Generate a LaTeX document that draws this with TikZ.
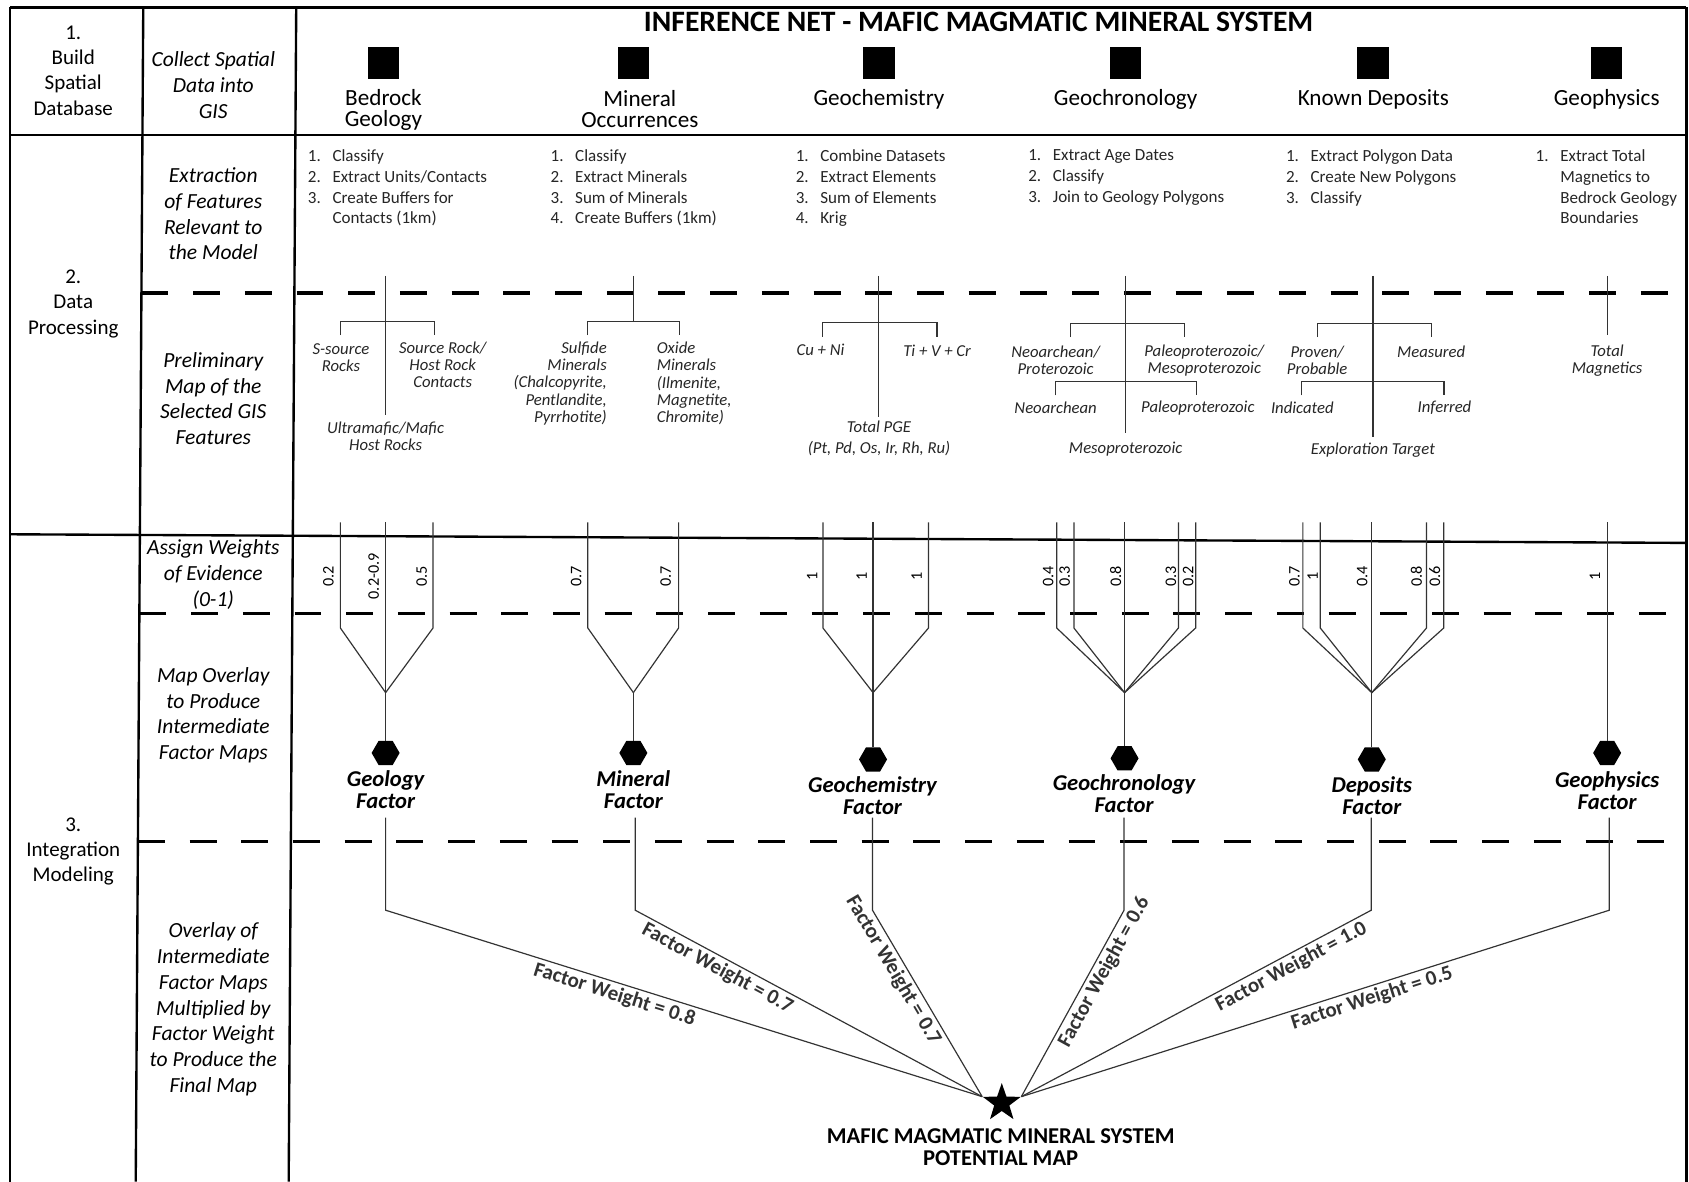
\documentclass[tikz,border=0pt]{standalone}
\usepackage{fontspec}
\setmainfont{Carlito}
\usetikzlibrary{shapes.geometric}
\newcommand\fsz[2]{\fontsize{#1pt}{#2pt}\selectfont}
\newcommand\itm[1]{\makebox[22.8pt][l]{#1}}
\newcommand\ind{\hspace*{22.8pt}}
\begin{document}
\begin{tikzpicture}[x=1pt,y=-1pt,
  gridline/.style={line width=2.2pt},
  sepdash/.style={line width=3pt, dash pattern=on 25pt off 23pt},
  wire/.style={line width=1.1pt, black!80},
  stagehead/.style={align=center, font=\fsz{19.5}{23.6}, inner sep=0pt},
  taskname/.style={align=center, font=\fsz{20}{24}\itshape, inner sep=0pt},
  layername/.style={align=center, font=\fsz{21.5}{19.5}, inner sep=0pt},
  layerbox/.style={fill=black, minimum size=29pt, inner sep=0pt},
  tasklist/.style={align=left, font=\fsz{15.8}{19.2}, text=black!85, inner sep=0pt, anchor=north west},
  feat/.style={align=center, font=\fsz{15.5}{16}\itshape, text=black!85, inner sep=0pt},
  wt/.style={rotate=90, font=\fsz{15}{15}, inner sep=0pt},
  hexa/.style={regular polygon, regular polygon sides=6, fill=black, minimum size=26pt, inner sep=0pt},
  factorname/.style={align=center, font=\fsz{21}{20}\bfseries\itshape, inner sep=0pt},
  fw/.style={sloped, below, font=\fsz{19.5}{19.5}\bfseries, inner sep=2.5pt},
  finalmap/.style={align=center, font=\fsz{21}{20}\bfseries, inner sep=0pt}
]
\useasboundingbox (0,0) rectangle (1568,1097);
\fill[white] (0,0) rectangle (1568,1097);

% ---- table frame ----
\draw[gridline] (9.5,6.8) -- (1565.5,6.8);
\draw[gridline] (9.5,6.8) -- (9.5,1097);
\draw[gridline] (1565.5,6.8) -- (1565.5,1097);
\draw[gridline] (133,6.8) -- (126,1097);
\draw[gridline] (275,6.8) -- (268,1097);
\draw[gridline] (9.5,125.3) -- (1565.5,125.3);
\draw[gridline] (9.5,496) -- (1565.5,504);
\draw[sepdash] (131.3,272) -- (1565.5,272);
\draw[sepdash] (129.4,569.5) -- (1565.5,569.5);
\draw[sepdash] (128,781) -- (1565.5,781);

% ---- stage and task columns ----
\node[stagehead] (st1) at (68,65.5) {1.\\Build\\Spatial\\Database};
\node[stagehead] (st2) at (68,282) {2.\\Data\\Processing};
\node[stagehead] (st3) at (68,790.5) {3.\\Integration\\Modeling};

\node[taskname] (t1) at (198,79) {Collect Spatial\\Data into\\GIS};
\node[taskname] (t2) at (198,198.4) {Extraction\\of Features\\Relevant to\\the Model};
\node[taskname] (t3) at (198,370) {Preliminary\\Map of the\\Selected GIS\\Features};
\node[taskname] (t4) at (198,533.6) {Assign Weights\\of Evidence\\(0-1)};
\node[taskname] (t5) at (198,664) {Map Overlay\\to Produce\\Intermediate\\Factor Maps};
\node[taskname] (t6) at (198,937) {Overlay of\\Intermediate\\Factor Maps\\Multiplied by\\Factor Weight\\to Produce the\\Final Map};

% ---- title and data layers ----
\node[font=\fsz{27.5}{27.5}\bfseries, inner sep=0pt] (title) at (908.5,20) {INFERENCE NET - MAFIC MAGMATIC MINERAL SYSTEM};

\node[layerbox] (sqBed) at (356,58.5) {};
\node[layerbox] (sqMin) at (588,58.5) {};
\node[layerbox] (sqChem) at (816,58.5) {};
\node[layerbox] (sqChron) at (1045,58.5) {};
\node[layerbox] (sqDep) at (1274.6,58.5) {};
\node[layerbox] (sqPhys) at (1491.6,58.5) {};

\node[layername] (lBed) at (356,101.8) {Bedrock\\Geology};
\node[layername] (lMin) at (594,101.3) {Mineral\\Occurrences};
\node[layername] (lChem) at (816,92) {Geochemistry};
\node[layername] (lChron) at (1045,92) {Geochronology};
\node[layername] (lDep) at (1275,92) {Known Deposits};
\node[layername] (lPhys) at (1491.6,92) {Geophysics};

% ---- processing steps ----
\node[tasklist] (pBed) at (285.7,139) {\itm{1.}Classify\\\itm{2.}Extract Units/Contacts\\\itm{3.}Create Buffers for\\\ind Contacts (1km)};
\node[tasklist] (pMin) at (511,139) {\itm{1.}Classify\\\itm{2.}Extract Minerals\\\itm{3.}Sum of Minerals\\\itm{4.}Create Buffers (1km)};
\node[tasklist] (pChem) at (738.6,139) {\itm{1.}Combine Datasets\\\itm{2.}Extract Elements\\\itm{3.}Sum of Elements\\\itm{4.}Krig};
\node[tasklist] (pChron) at (954.4,139) {\itm{1.}Extract Age Dates\\\itm{2.}Classify\\\itm{3.}Join to Geology Polygons};
\node[tasklist] (pDep) at (1193.7,139) {\itm{1.}Extract Polygon Data\\\itm{2.}Create New Polygons\\\itm{3.}Classify};
\node[tasklist] (pPhys) at (1425.5,139) {\itm{1.}Extract Total\\\ind Magnetics to\\\ind Bedrock Geology\\\ind Boundaries};

% ---- preliminary feature maps ----
\node[feat] (fSsrc) at (316.5,332) {S-source\\Rocks};
\node[feat] (fSrc) at (411,338.5) {Source Rock/\\Host Rock\\Contacts};
\node[feat] (fUlt) at (358,405) {Ultramafic/Mafic\\Host Rocks};
\node[feat, align=right, anchor=east] (fSulf) at (563.5,356) {Sulfide\\Minerals\\(Chalcopyrite,\\Pentlandite,\\Pyrrhotite)};
\node[feat, align=left, anchor=west] (fOx) at (609.6,356) {Oxide\\Minerals\\(Ilmenite,\\Magnetite,\\Chromite)};
\node[feat] (fCuNi) at (761.7,325) {Cu + Ni};
\node[feat] (fTiVCr) at (870,326) {Ti + V + Cr};
\node[feat, font=\fsz{15.5}{19.5}\itshape] (fPGE) at (816,406.5) {Total PGE\\(Pt, Pd, Os, Ir, Rh, Ru)};
\node[feat] (fNeoP) at (980,334.5) {Neoarchean/\\Proterozoic};
\node[feat] (fPalM) at (1118,334.5) {Paleoproterozoic/\\Mesoproterozoic};
\node[feat] (fNeo) at (980,378.5) {Neoarchean};
\node[feat] (fPal) at (1112,378.5) {Paleoproterozoic};
\node[feat] (fMeso) at (1045,417) {Mesoproterozoic};
\node[feat] (fPP) at (1222.8,334.5) {Proven/\\Probable};
\node[feat] (fMeas) at (1328.6,326.5) {Measured};
\node[feat] (fInd) at (1209,378.5) {Indicated};
\node[feat] (fInf) at (1341,378.5) {Inferred};
\node[feat] (fExp) at (1274.6,417.8) {Exploration Target};
\node[feat] (fMag) at (1492,334.5) {Total\\Magnetics};

% feature trees
\coordinate (bedT) at (358,256);   \coordinate (bedB) at (358,385);
\coordinate (bedJ) at (358,298.6); \coordinate (bedL) at (316,311); \coordinate (bedR) at (403,311);
\draw[wire] (bedT) -- (bedB);
\draw[wire] (bedL) |- (bedJ) -| (bedR);

\coordinate (minT) at (588.4,256); \coordinate (minJ) at (588.4,298.6);
\coordinate (minL) at (545.7,311); \coordinate (minR) at (631,311);
\draw[wire] (minT) -- (minJ);
\draw[wire] (minL) |- (minJ) -| (minR);

\coordinate (chemT) at (815.5,256); \coordinate (chemB) at (815.5,386.8);
\coordinate (chemJ) at (815.5,299.5); \coordinate (chemL) at (763.5,312.5); \coordinate (chemR) at (869.8,312.5);
\draw[wire] (chemT) -- (chemB);
\draw[wire] (chemL) |- (chemJ) -| (chemR);

\coordinate (chronT) at (1045,256); \coordinate (chronB) at (1045,402);
\coordinate (chronJ) at (1045,300); \coordinate (chronL) at (994,313); \coordinate (chronR) at (1100,313);
\coordinate (chronJ2) at (1045,354); \coordinate (chronL2) at (980,367); \coordinate (chronR2) at (1111,367);
\draw[wire] (chronT) -- (chronB);
\draw[wire] (chronL) |- (chronJ) -| (chronR);
\draw[wire] (chronL2) |- (chronJ2) -| (chronR2);

\coordinate (depT) at (1274.6,256); \coordinate (depB) at (1274.6,406);
\coordinate (depJ) at (1274.6,300); \coordinate (depL) at (1222.8,313); \coordinate (depR) at (1328.6,313);
\coordinate (depJ2) at (1274.6,354); \coordinate (depL2) at (1208,367); \coordinate (depR2) at (1340.6,367);
\draw[wire] (depT) -- (depB);
\draw[wire] (depL) |- (depJ) -| (depR);
\draw[wire] (depL2) |- (depJ2) -| (depR2);

\coordinate (physT) at (1492,256); \coordinate (physB) at (1492,311);
\draw[wire] (physT) -- (physB);

% ---- weights of evidence and factor maps ----
\node[hexa] (hGeo) at (358,699) {};
\node[hexa] (hMin) at (588,699) {};
\node[hexa] (hChem) at (810.5,705) {};
\node[hexa] (hChron) at (1044,704) {};
\node[hexa] (hDep) at (1273.5,705) {};
\node[hexa] (hPhys) at (1492,699) {};

\coordinate (jGeo) at (358,643);
\coordinate (jMin) at (588,643);
\coordinate (jChem) at (810.5,643);
\coordinate (jChron) at (1044,643);
\coordinate (jDep) at (1273.5,643);

\foreach \x [count=\i] in {316,358,402} {
  \coordinate (eGeo\i) at (\x,485);
  \draw[wire] (eGeo\i) -- ++(0,98) -- (jGeo);
}
\foreach \x [count=\i] in {545.7,630} {
  \coordinate (eMin\i) at (\x,485);
  \draw[wire] (eMin\i) -- ++(0,98) -- (jMin);
}
\foreach \x [count=\i] in {764,810.5,862} {
  \coordinate (eChem\i) at (\x,485);
  \draw[wire] (eChem\i) -- ++(0,98) -- (jChem);
}
\foreach \x [count=\i] in {981,997,1044,1094,1110} {
  \coordinate (eChron\i) at (\x,485);
  \draw[wire] (eChron\i) -- ++(0,98) -- (jChron);
}
\foreach \x [count=\i] in {1209.5,1225.7,1273.5,1324.3,1340.3} {
  \coordinate (eDep\i) at (\x,485);
  \draw[wire] (eDep\i) -- ++(0,98) -- (jDep);
}
\coordinate (ePhys1) at (1492,485);

\draw[wire] (jGeo) -- (hGeo.north);
\draw[wire] (jMin) -- (hMin.north);
\draw[wire] (jChem) -- (hChem.north);
\draw[wire] (jChron) -- (hChron.north);
\draw[wire] (jDep) -- (hDep.north);
\draw[wire] (ePhys1) -- (hPhys.north);

\foreach \x/\t [count=\i] in {305/0.2, 347/0.2-0.9, 391.5/0.5, 535/0.7, 618/0.7,
    754/1, 800/1, 851/1, 973/0.4, 988.5/0.3, 1035.7/0.8, 1087/0.3, 1103/0.2,
    1201.7/0.7, 1218.6/1, 1264.5/0.4, 1315/0.8, 1332/0.6, 1480.7/1}
  \node[wt] (wt\i) at (\x,535) {\t};

\node[factorname] (nGeo) at (358,733) {Geology\\Factor};
\node[factorname] (nMin) at (588,733) {Mineral\\Factor};
\node[factorname] (nChem) at (810,738.5) {Geochemistry\\Factor};
\node[factorname] (nChron) at (1043.5,737) {Geochronology\\Factor};
\node[factorname] (nDep) at (1273.5,738.5) {Deposits\\Factor};
\node[factorname] (nPhys) at (1492,734) {Geophysics\\Factor};

% ---- final overlay ----
\node[star, star points=5, star point ratio=2.5, minimum size=37pt, fill=black, inner sep=0pt] (target) at (930,1024) {};
\node[finalmap] (fin) at (929,1065) {MAFIC MAGMATIC MINERAL SYSTEM\\POTENTIAL MAP};

\coordinate (oGeo) at (358,759);     \coordinate (kGeo) at (358,845);
\coordinate (oMin) at (589.7,759);   \coordinate (kMin) at (589.7,845);
\coordinate (oChem) at (810,759);    \coordinate (kChem) at (810,845);
\coordinate (oChron) at (1043.5,759);\coordinate (kChron) at (1043.5,845);
\coordinate (oDep) at (1273,759);    \coordinate (kDep) at (1273,845);
\coordinate (oPhys) at (1494,759);   \coordinate (kPhys) at (1494,845);

\draw[wire] (oGeo) -- (kGeo) -- node[fw,pos=0.39] (wGeo) {Factor Weight = 0.8} (target.outer point 2);
\draw[wire] (oMin) -- (kMin) -- node[fw,pos=0.254] (wMin) {Factor Weight = 0.7} (target.outer point 2);
\draw[wire] (oChem) -- (kChem) -- node[fw,pos=0.287] (wChem) {Factor Weight = 0.7} (target.outer point 2);
\draw[wire] (oChron) -- (kChron) -- node[fw,pos=0.30] (wChron) {Factor Weight = 0.6} (target.outer point 5);
\draw[wire] (oDep) -- (kDep) -- node[fw,pos=0.245] (wDep) {Factor Weight = 1.0} (target.outer point 5);
\draw[wire] (oPhys) -- (kPhys) -- node[fw,pos=0.41] (wPhys) {Factor Weight = 0.5} (target.outer point 5);
\end{tikzpicture}
\end{document}
